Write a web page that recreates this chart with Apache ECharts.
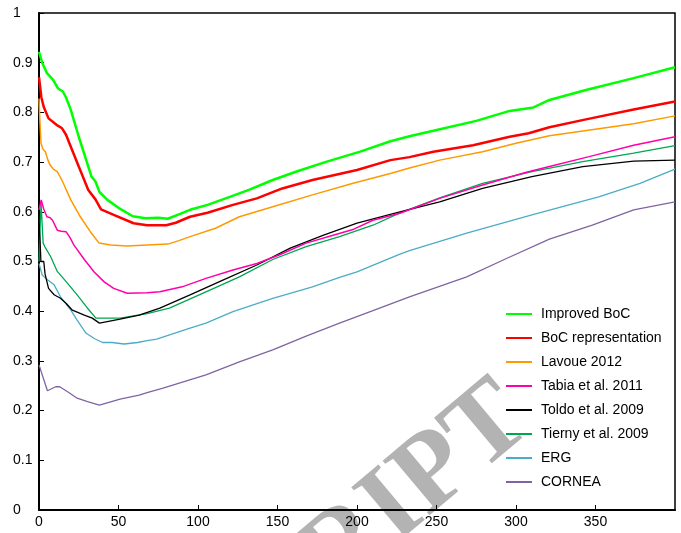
<!DOCTYPE html>
<html><head><meta charset="utf-8">
<script src="https://cdn.jsdelivr.net/npm/echarts@6/dist/echarts.min.js"></script>
<style>html,body{margin:0;padding:0;background:#fff}#c{width:681px;height:533px}</style>
</head><body><div id="c"></div>
<script>
const seriesNames = ['Improved BoC','BoC representation','Lavoue 2012','Tabia et al. 2011','Toldo et al. 2009','Tierny et al. 2009','ERG','CORNEA'];
const xTicks = [0,50,100,150,200,250,300,350];
const yTicks = [0,0.1,0.2,0.3,0.4,0.5,0.6,0.7,0.8,0.9,1];

const improvedBoC = [[0,0.922],[2,0.90],[5,0.879],[9,0.865],[12,0.848],[15,0.842],[17,0.83],[20,0.805],[25,0.751],[30,0.701],[33,0.671],[35.5,0.661],[38,0.640],[43,0.624],[50,0.608],[59,0.591],[67,0.587],[75,0.588],[81,0.586],[88,0.595],[95,0.604],[106,0.614],[120,0.630],[132,0.644],[147,0.664],[162,0.681],[181,0.701],[202,0.721],[221,0.742],[233,0.752],[248,0.763],[275,0.783],[296,0.803],[311,0.810],[321,0.825],[344,0.845],[374,0.869],[400,0.891]];
const bocRep = [[0,0.871],[1.5,0.83],[3,0.811],[6,0.788],[11,0.775],[14.5,0.768],[17,0.755],[20,0.731],[25,0.691],[31,0.644],[35.5,0.625],[39,0.605],[47,0.594],[59.5,0.577],[68,0.573],[80,0.573],[86,0.578],[95,0.590],[106,0.598],[122,0.614],[137,0.627],[153,0.647],[172,0.664],[200,0.684],[221,0.704],[233,0.710],[248,0.721],[273,0.734],[296,0.751],[308,0.758],[321,0.770],[344,0.786],[374,0.806],[400,0.822]];
const lavoue = [[0,0.828],[0.6,0.78],[1.25,0.738],[2.5,0.726],[4,0.721],[5.5,0.705],[7,0.694],[9,0.686],[11.5,0.681],[13,0.672],[14.8,0.661],[20,0.624],[26,0.590],[32.3,0.560],[37.8,0.537],[45,0.533],[55.5,0.531],[68,0.533],[81,0.535],[88,0.542],[95,0.550],[111,0.567],[126,0.590],[147,0.610],[172,0.634],[197,0.657],[221,0.677],[233,0.688],[252,0.704],[279,0.721],[300,0.738],[321,0.753],[352,0.767],[374,0.777],[400,0.793]];
const tabia = [[0,0.604],[1.4,0.624],[3,0.605],[5,0.590],[7,0.588],[8.5,0.583],[11.5,0.563],[14,0.561],[17,0.560],[19.5,0.548],[22,0.533],[28.5,0.504],[34.7,0.479],[41,0.459],[47,0.446],[55.5,0.436],[68,0.437],[76,0.439],[90,0.449],[105,0.466],[122,0.483],[137,0.496],[151,0.513],[168,0.537],[185,0.553],[198,0.565],[210,0.583],[227,0.597],[252,0.627],[279,0.654],[306,0.679],[321,0.691],[346,0.711],[374,0.734],[400,0.751]];
const toldo = [[0,0.578],[0.7,0.54],[1.2,0.50],[3,0.50],[3.8,0.475],[6,0.446],[9.5,0.433],[13.5,0.426],[17,0.416],[21,0.402],[28.5,0.392],[33.5,0.386],[38,0.376],[51,0.384],[63,0.392],[76,0.406],[95,0.433],[116,0.463],[137,0.493],[158,0.527],[179,0.553],[200,0.577],[221,0.595],[227,0.600],[252,0.620],[279,0.647],[310,0.671],[342,0.691],[374,0.702],[400,0.704]];
const tierny = [[0,0.50],[0.6,0.56],[1.3,0.617],[2.6,0.537],[3.6,0.530],[7.3,0.510],[11.5,0.480],[18,0.456],[24,0.433],[30.5,0.406],[35.8,0.386],[51,0.386],[68,0.395],[82,0.406],[105,0.439],[126,0.469],[147,0.504],[168,0.530],[189,0.550],[210,0.573],[227,0.598],[252,0.628],[279,0.657],[310,0.681],[342,0.701],[374,0.718],[400,0.733]];
const erg = [[0,0.496],[2,0.473],[4.3,0.466],[5.3,0.47],[9.5,0.453],[13.5,0.429],[20,0.402],[24,0.382],[29.5,0.356],[34.7,0.345],[40,0.337],[46,0.337],[53.5,0.334],[62,0.337],[68,0.341],[74,0.344],[95,0.366],[105,0.376],[122,0.399],[147,0.426],[172,0.449],[189,0.468],[200,0.479],[227,0.515],[233,0.522],[269,0.557],[310,0.594],[352,0.630],[378,0.657],[400,0.686]];
const cornea = [[0,0.292],[5.3,0.240],[10.5,0.248],[13,0.248],[18,0.238],[24,0.225],[30.5,0.218],[38,0.211],[51,0.223],[63,0.231],[68,0.236],[78,0.245],[105,0.272],[126,0.298],[147,0.322],[168,0.350],[189,0.376],[210,0.401],[233,0.429],[269,0.469],[294,0.506],[321,0.545],[348,0.573],[374,0.604],[400,0.620]];

const seriesData = [improvedBoC,bocRep,lavoue,tabia,toldo,tierny,erg,cornea];
const colors = ['#00ff00','#ff0000','#ff9900','#ff00aa','#000000','#00a651','#4bacc6','#8064a2'];
const widths = [2.5,2.5,1.5,1.5,1.3,1.3,1.3,1.3];

const chart = echarts.init(document.getElementById('c'), null, {renderer:'canvas'});
const FONT = '"Liberation Sans", Arial, sans-serif';
chart.setOption({
  animation:false,
  backgroundColor:'#fff',
  grid:{left:39,right:6,top:13,bottom:23,show:true,borderColor:'#000',borderWidth:1.5,containLabel:false},
  xAxis:{type:'value',min:0,max:400,interval:50,
    axisLine:{show:true,lineStyle:{color:'#000',width:2}},
    axisTick:{show:true,inside:true,length:5,lineStyle:{color:'#000',width:1}},
    axisLabel:{color:'#000',fontSize:14,fontFamily:FONT,margin:5,showMaxLabel:false,
      formatter:v=>xTicks.indexOf(v)>=0?String(v):''},
    splitLine:{show:false}},
  yAxis:{type:'value',min:0,max:1,interval:0.1,
    axisLine:{show:true,lineStyle:{color:'#000',width:2}},
    axisTick:{show:true,inside:true,length:5,lineStyle:{color:'#000',width:1}},
    axisLabel:{color:'#000',fontSize:14,fontFamily:FONT,align:'left',margin:26,
      formatter:v=>{const t=yTicks.find(y=>Math.abs(y-v)<1e-6);return t===undefined?'':String(t);}},
    splitLine:{show:false}},
  legend:{orient:'vertical',left:506,top:307,padding:0,itemWidth:26,itemHeight:2,itemGap:10,icon:'rect',z:20,
    textStyle:{color:'#000',fontSize:14,fontFamily:FONT,padding:[0,0,0,4]},
    data:seriesNames},
  graphic:{elements:[{type:'text',x:517,y:405,rotation:40*Math.PI/180,z:0,silent:true,
    style:{text:'ACCEPTED MANUSCRIPT',font:'bold 110px "Liberation Serif", serif',fill:'#b3b3b3',textAlign:'right',textVerticalAlign:'middle'}}]},
  series:seriesNames.map((n,i)=>({name:n,type:'line',data:seriesData[i],showSymbol:false,symbol:'none',
    color:colors[i],lineStyle:{color:colors[i],width:widths[i]},z:10-i}))
});
</script></body></html>
